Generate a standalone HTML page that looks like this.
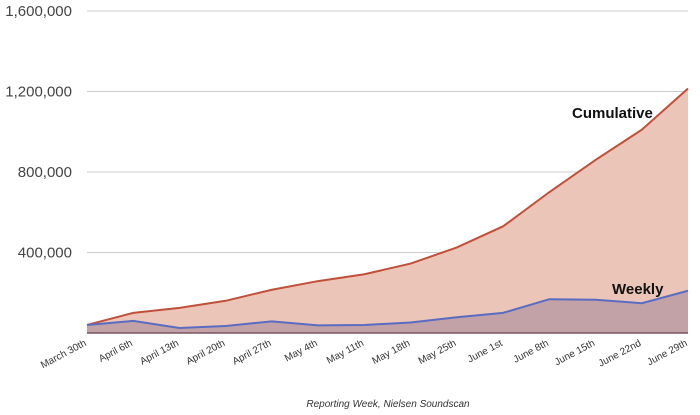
<!DOCTYPE html>
<html><head><meta charset="utf-8"><style>
body{margin:0;background:#fff;}
svg{display:block;font-family:"Liberation Sans",Arial,sans-serif;}
</style></head><body>
<svg id="chart" width="700" height="415" viewBox="0 0 700 415">
<g id="grid"></g><g id="areas"></g><g id="lbls"></g>
<text x="388" y="407" font-size="10" font-style="italic" fill="#333" text-anchor="middle">Reporting Week, Nielsen Soundscan</text>
<text x="572" y="118" font-size="15" font-weight="bold" fill="#111">Cumulative</text>
<text x="612" y="294" font-size="15" font-weight="bold" fill="#111">Weekly</text>
</svg>
<script>
const categories=["March 30th","April 6th","April 13th","April 20th","April 27th","May 4th","May 11th","May 18th","May 25th","June 1st","June 8th","June 15th","June 22nd","June 29th"];
const cumulative=[40000,100000,125000,160000,215000,258000,292000,345000,425000,530000,700000,860000,1010000,1215000];
const weekly=[40000,60000,25000,35000,58000,38000,40000,52000,78000,100000,168000,165000,148000,210000];
const yTicks=[400000,800000,1200000,1600000];
const yTickLabels=["400,000","800,000","1,200,000","1,600,000"];
const NS="http://www.w3.org/2000/svg";
const x0=87,x1=688,yb=333,yt=11,ymax=1600000;
const X=i=>x0+i*(x1-x0)/(categories.length-1);
const Y=v=>yb-(v/ymax)*(yb-yt);
function mk(tag,attrs,parent){const e=document.createElementNS(NS,tag);for(const k in attrs)e.setAttribute(k,attrs[k]);document.getElementById(parent).appendChild(e);return e;}
yTicks.forEach((t,i)=>{
 const l=mk('line',{x1:x0,x2:x1,y1:Y(t),y2:Y(t),stroke:'#ccc','stroke-width':1},'grid');
 
 
 const tx=mk('text',{x:72,y:Y(t)+5,'font-size':15,fill:'#444','text-anchor':'end'},'grid');
 tx.textContent=yTickLabels[i];
 
 
});
function series(vals,fill,stroke,name){
 const pts=vals.map((v,i)=>X(i)+','+Y(v)).join(' ');
 const a=mk('polygon',{points:X(0)+','+yb+' '+pts+' '+X(vals.length-1)+','+yb,fill:fill},'areas');
 
 
 const l=mk('polyline',{points:pts,fill:'none',stroke:stroke,'stroke-width':2},'areas');
 
 
}
series(cumulative,'#ebc5b7','#c0503a','cumulative');
series(weekly,'#c3a2a7','#5a6cc2','weekly');
const base=mk('line',{x1:x0,x2:x1,y1:yb,y2:yb,stroke:'#7a5560','stroke-width':1.5},'areas');


categories.forEach((c,i)=>{
 const t=mk('text',{x:X(i),y:yb+12,'font-size':10,fill:'#333','text-anchor':'end',transform:'rotate(-28 '+X(i)+' '+(yb+12)+')'},'lbls');
 t.textContent=c;
 
 
});
</script>
</body></html>
